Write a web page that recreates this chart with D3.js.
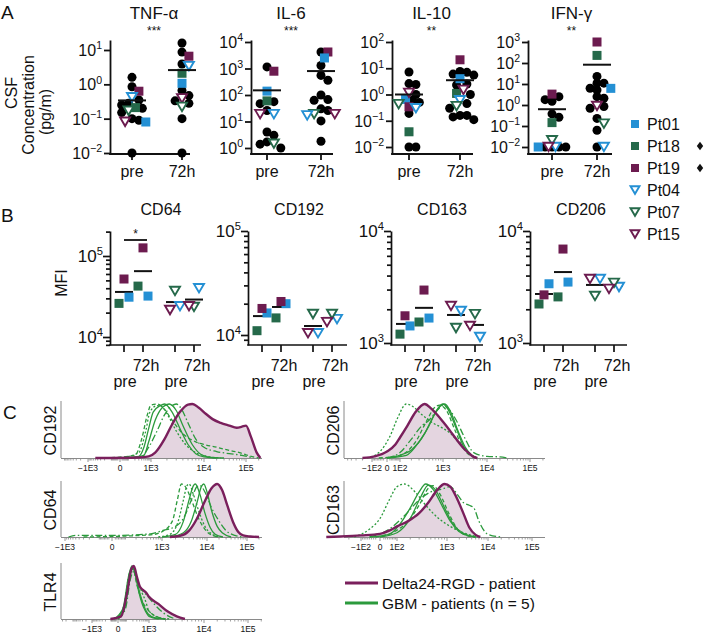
<!DOCTYPE html>
<html><head><meta charset="utf-8">
<script src="https://cdn.jsdelivr.net/npm/d3@7"></script>
<style>
body{margin:0;background:#fff}
text{font-family:"Liberation Sans",Arial,Helvetica,sans-serif;fill:#111}
</style></head>
<body><svg id="chart" width="704" height="635"></svg>
<script>
// ================= DATA =================
const patients = ["Pt01","Pt18","Pt19","Pt04","Pt07","Pt15"];
const deltaMarked = ["Pt18","Pt19"];
// ---- Panel A: CSF cytokines (pg/ml) ----
const cytokines = ["TNF-α","IL-6","IL-10","IFN-γ"];
const cytokineSig = ["***","***","**","**"];
const timepointsA = ["pre","72h"];
// patient values follow the order of `patients` (null = not shown)
const tnfPatientPre = [0.08, 0.21, 0.63, 0.42, 0.17, 0.081];
const tnfPatient72  = [1.07, 2.1, 6.6, 3.4, 0.22, 0.39];
const tnfOtherPre   = [1.6, 0.85, 0.35, 0.28, 0.25, 0.2, 0.15, 0.1, 0.09, 0.01];
const tnfOther72    = [16, 8.7, 3.9, 0.66, 0.47, 0.33, 0.28, 0.1, 0.01];
const tnfMeans      = [0.34, 2.6];
const il6PatientPre = [140, 60, 790, 19, 1.45, 19];
const il6Patient72  = [2500, null, 4200, 17, 19, 19];
const il6OtherPre   = [1150, 56, 47, 26, 4, 3, 1.7, 1.4, 1.0];
const il6Other72    = [4200, 1300, 550, 360, 100, 67, 63, 30, 26, 10.5, 1.8];
const il6Means      = [150, 800];
const il10PatientPre = [0.65, 0.038, 0.34, 0.3, 0.43, 1.15];
const il10Patient72  = [4, 1.1, 21, 0.6, 0.36, 1.5];
const il10OtherPre   = [7.2, 2.6, 2.4, 1.0, 0.6, 0.5, 0.19, 0.01, 0.01];
const il10Other72    = [7.5, 7, 6, 5.5, 2.5, 2.3, 1.0, 0.45, 0.3, 0.16, 0.14, 0.16, 0.11];
const il10Means      = [1.0, 3.5];
const ifnPatientPre = [0.01, 0.145, 3.3, 0.01, 0.021, 0.01];
const ifnPatient72  = [6.2, 230, 1000, 0.01, 0.13, 0.9];
const ifnOtherPre   = [2.5, 1.8, 1.5, 0.38, 0.26, 0.01, 0.01, 0.01, 0.01];
const ifnOther72    = [23, 11, 11, 6.3, 5.2, 2.5, 2.1, 0.85, 0.7, 0.23, 0.063, 0.01];
const ifnMeans      = [0.63, 83];

// ---- Panel B: MFI ----
const markersB = ["CD64","CD192","CD163","CD206"];
const groupsB = ["delta","gbm"];
const timesB = ["pre","72h"];
const deltaPatients = ["Pt01","Pt18","Pt19"];
const gbmPatients = ["Pt04","Pt07","Pt15"];
const cd64DeltaPre = [31000, 26000, 52000];
const cd64Delta72  = [32000, 42500, 126000];
const cd64GbmPre   = [24000, 37000, 21500];
const cd64Gbm72    = [40000, 23500, 24000];
const cd64Means    = [36000, 65000, 27000, 29000];
const cd192DeltaPre = [16300, 11000, 18000];
const cd192Delta72  = [20000, 14600, 21000];
const cd192GbmPre   = [10400, 15900, 10400];
const cd192Gbm72    = [14200, 15900, 13300];
const cd192Means    = [15200, 18600, 12200, 14600];
const cd163DeltaPre = [1420, 1200, 1750];
const cd163Delta72  = [1670, 1540, 2970];
const cd163GbmPre   = [1930, 1360, 2140];
const cd163Gbm72    = [1130, 1810, 1420];
const cd163Means    = [1480, 2060, 1780, 1450];
const cd206DeltaPre = [3380, 2230, 2690];
const cd206Delta72  = [3500, 2580, 6900];
const cd206GbmPre   = [3730, 2630, 3730];
const cd206Gbm72    = [3160, 3440, 3040];
const cd206Means    = [2740, 4300, 3300, 3250];

// ---- Panel C: histograms, [value, normalized height] ----
const histMarkers = ["CD192","CD64","TLR4","CD206","CD163"];
const histTicksWide = [-1000, 0, 1000, 1e4, 1e5];
const histLabelsWide = ["−1E3","0","1E3","1E4","1E5"];
const histTicksNarrow = [-100, 0, 100, 1000, 1e4, 1e5];
const histLabelsNarrow = ["−1E2","0","1E2","1E3","1E4","1E5"];
const legendC = ["Delta24-RGD - patient","GBM - patients (n = 5)"];

const cd192Delta = [[-500,0],[300,0.01],[800,0.03],[1200,0.1],[1800,0.35],[2500,0.62],[3500,0.85],[5000,0.99],[6000,1.0],[8000,0.93],[11000,0.82],[16000,0.72],[25000,0.65],[40000,0.6],[60000,0.56],[80000,0.58],[100000,0.6],[130000,0.4],[180000,0.1],[220000,0]];
const cd192Gbm = [
 [[0,0],[300,0.03],[500,0.2],[800,0.55],[1100,0.85],[1500,0.97],[1800,1.0],[2500,0.85],[3500,0.55],[5000,0.25],[7000,0.08],[10000,0.02],[20000,0]],
 [[100,0],[500,0.05],[800,0.3],[1200,0.7],[1700,0.95],[2200,1.0],[3000,0.88],[4000,0.6],[6000,0.25],[9000,0.06],[15000,0.01],[30000,0]],
 [[-200,0],[200,0.05],[400,0.35],[700,0.8],[1000,0.98],[1300,1.0],[1800,0.9],[2500,0.7],[4000,0.45],[7000,0.3],[10000,0.25],[20000,0.2],[40000,0.14],[70000,0.1],[100000,0.06],[150000,0.02],[200000,0]],
 [[0,0],[400,0.03],[800,0.2],[1300,0.5],[1800,0.8],[2500,0.97],[3000,1.0],[3800,0.9],[5000,0.65],[7000,0.35],[10000,0.2],[20000,0.12],[40000,0.08],[80000,0.05],[150000,0]],
 [[0,0],[300,0.1],[600,0.5],[900,0.85],[1300,0.97],[1600,0.95],[2200,0.75],[3000,0.5],[4500,0.25],[7000,0.1],[12000,0.03],[25000,0]]
];
const cd64Delta = [[1500,0],[2500,0.02],[4000,0.12],[6000,0.35],[9000,0.68],[13000,0.92],[18000,1.0],[24000,0.88],[32000,0.6],[45000,0.28],[60000,0.1],[80000,0.03],[120000,0.01],[200000,0]];
const cd64Gbm = [
 [[1000,0],[2000,0.05],[3000,0.3],[4000,0.7],[5000,0.97],[5500,1.0],[7000,0.8],[9000,0.45],[12000,0.18],[16000,0.05],[25000,0]],
 [[1500,0],[3000,0.08],[4500,0.3],[6000,0.65],[7500,0.95],[8500,1.0],[10000,0.85],[13000,0.5],[18000,0.2],[25000,0.07],[40000,0]],
 [[-300,0],[500,0.04],[1000,0.1],[1700,0.3],[2200,0.7],[2700,1.0],[3300,0.95],[4500,0.7],[6500,0.35],[10000,0.1],[15000,0.02],[20000,0]],
 [[-800,0],[-500,0.03],[0,0.03],[500,0.06],[1000,0.12],[2000,0.2],[3000,0.35],[4500,0.7],[6000,0.95],[7000,0.97],[9000,0.85],[13000,0.55],[20000,0.3],[30000,0.12],[50000,0.03],[80000,0]],
 [[800,0],[1500,0.05],[2300,0.3],[3000,0.7],[3600,0.97],[4000,1.0],[5000,0.8],[6500,0.5],[9000,0.2],[13000,0.06],[20000,0]]
];
const tlr4Delta = [[-100,0],[30,0.05],[100,0.5],[170,0.95],[220,1.0],[300,0.8],[400,0.62],[550,0.55],[750,0.5],[1000,0.42],[1500,0.28],[2200,0.14],[3200,0.05],[4500,0]];
const tlr4Gbm = [
 [[-50,0],[50,0.2],[120,0.8],[180,1.0],[250,0.85],[350,0.55],[500,0.3],[700,0.15],[1000,0.05],[1500,0]],
 [[-50,0],[60,0.15],[140,0.8],[200,0.98],[280,0.8],[400,0.5],[600,0.25],[900,0.1],[1300,0.02],[2000,0]],
 [[-30,0],[60,0.25],[130,0.85],[200,0.95],[300,0.65],[500,0.35],[800,0.2],[1200,0.08],[2000,0]],
 [[0,0],[80,0.2],[150,0.75],[220,0.9],[320,0.7],[500,0.55],[800,0.45],[1200,0.3],[1800,0.12],[3000,0]],
 [[0,0],[80,0.3],[160,0.9],[230,0.95],[350,0.7],[500,0.5],[700,0.35],[1000,0.15],[1500,0.03],[2500,0]]
];
const cd206Delta = [[-200,0],[-80,0.03],[0,0.12],[60,0.25],[100,0.38],[160,0.6],[250,0.85],[400,1.0],[550,0.92],[750,0.8],[1000,0.67],[1400,0.52],[2000,0.35],[2800,0.2],[4000,0.08],[5000,0.02],[6000,0]];
const cd206Gbm = [
 [[0,0],[100,0.05],[200,0.15],[400,0.45],[600,0.75],[900,0.97],[1100,1.0],[1500,0.85],[2200,0.5],[3200,0.2],[4500,0.05],[6000,0]],
 [[0,0],[150,0.05],[300,0.3],[500,0.6],[750,0.9],[1000,1.0],[1300,0.9],[2000,0.55],[3000,0.2],[4500,0.05],[6000,0]],
 [[-50,0],[100,0.05],[250,0.3],[450,0.7],[650,0.93],[850,0.98],[1200,0.88],[1800,0.55],[2800,0.2],[4500,0.03],[6000,0]],
 [[0,0],[100,0.1],[200,0.35],[350,0.6],[500,0.7],[700,0.85],[1000,0.97],[1300,0.92],[2000,0.7],[3000,0.4],[5000,0.1],[10000,0.03],[20000,0.02],[30000,0]],
 [[-150,0],[-50,0.1],[20,0.4],[80,0.75],[150,1.0],[220,0.95],[350,0.8],[600,0.65],[1000,0.55],[1500,0.45],[2500,0.25],[4000,0.08],[6000,0]]
];
const cd163Delta = [[-600,0],[-300,0.01],[-100,0.03],[0,0.06],[50,0.12],[100,0.2],[180,0.3],[300,0.45],[450,0.65],[650,0.88],[900,1.0],[1200,0.95],[1700,0.75],[2500,0.45],[3500,0.18],[5000,0.04],[6500,0]];
const cd163Gbm = [
 [[-50,0],[50,0.05],[120,0.25],[200,0.55],[300,0.85],[400,1.0],[550,0.9],[800,0.6],[1200,0.3],[2000,0.1],[3500,0.02],[5000,0]],
 [[0,0],[100,0.08],[200,0.35],[320,0.75],[450,0.98],[600,0.9],[900,0.55],[1400,0.25],[2500,0.07],[5000,0]],
 [[-20,0],[80,0.1],[180,0.3],[300,0.6],[450,0.92],[550,0.97],[750,0.8],[1100,0.45],[1800,0.15],[3000,0.03],[5000,0]],
 [[-50,0],[50,0.15],[150,0.4],[300,0.7],[500,0.85],[800,0.9],[1200,0.95],[1800,0.8],[2500,0.65],[3500,0.6],[4500,0.55],[6000,0.3],[10000,0.05],[20000,0]],
 [[-150,0],[-50,0.15],[0,0.35],[50,0.7],[100,0.95],[150,1.0],[250,0.85],[400,0.6],[700,0.35],[1200,0.2],[2500,0.08],[6000,0]]
];

// ================= STYLE / LAYOUT =================
const patientColor = ["#2490d4","#25694a","#6c1b4f","#2490d4","#25694a","#6c1b4f"];
const patientShape = ["square","square","square","tri","tri","tri"];
const PURPLE = "#7a1f5c", PURPLE_FILL = "#e4d5e0", GREEN = "#2b9a3c";
const greenDash = [null, null, "4,2.5", "7,2.5,1.5,2.5", "2,2"];

const svg = d3.select("#chart");

function marker(g, shape, color, x, y, size) {
  if (shape === "circle") {
    g.append("circle").attr("cx", x).attr("cy", y).attr("r", size / 2).attr("fill", "#000");
  } else if (shape === "square") {
    g.append("rect").attr("x", x - size / 2).attr("y", y - size / 2)
      .attr("width", size).attr("height", size).attr("fill", color);
  } else {
    const w = size, h = size * 0.85;
    g.append("path").attr("d", `M${x - w / 2},${y - h / 2}L${x + w / 2},${y - h / 2}L${x},${y + h / 2}Z`)
      .attr("fill", "#fff").attr("stroke", color).attr("stroke-width", 1.9).attr("stroke-linejoin", "miter");
  }
}
function powLabel(g, x, y, exp, fs) {
  const t = g.append("text").attr("x", x).attr("y", y).attr("text-anchor", "end").attr("font-size", fs);
  t.append("tspan").text("10");
  t.append("tspan").attr("dy", -fs * 0.42).attr("font-size", fs * 0.66).text(exp < 0 ? "−" + (-exp) : String(exp));
}
// compact beeswarm: allows partial overlap, spread capped
function swarm(points, y, cx, r, maxOff) {
  const placed = [];
  const sorted = points.slice().sort((a, b) => b.v - a.v);
  const step = r * 0.75;
  sorted.forEach(p => {
    p.y = y(p.v);
    let best = null, bestD = -1;
    for (let k = 0; k < 60; k++) {
      const off = (k % 2 === 1 ? 1 : -1) * Math.ceil(k / 2) * step;
      if (Math.abs(off) > maxOff) break;
      const x = cx + off;
      const dmin = placed.length ? d3.min(placed, q => Math.hypot(q.x - x, q.y - p.y)) : 1e9;
      if (dmin >= 2 * r * 0.72) { best = x; break; }
      if (dmin > bestD) { bestD = dmin; best = x; }
    }
    p.x = best;
    placed.push(p);
  });
  return sorted;
}

// Panel letters
[["A", 1, 19], ["B", 1, 222], ["C", 3, 419]].forEach(([t, x, y]) =>
  svg.append("text").attr("x", x).attr("y", y).attr("font-size", 19).text(t));

// ================= PANEL A =================
const dataA = [
  {patient: [tnfPatientPre, tnfPatient72], other: [tnfOtherPre, tnfOther72], means: tnfMeans},
  {patient: [il6PatientPre, il6Patient72], other: [il6OtherPre, il6Other72], means: il6Means},
  {patient: [il10PatientPre, il10Patient72], other: [il10OtherPre, il10Other72], means: il10Means},
  {patient: [ifnPatientPre, ifnPatient72], other: [ifnOtherPre, ifnOther72], means: ifnMeans}
];
const layoutA = [
  {axisX: 110, end: 190, xOff: [22, 72], decVals: [1e-2, 1e1], decY: [153, 50]},
  {axisX: 251, end: 333, xOff: [16, 70], decVals: [1e0, 1e4], decY: [148, 42]},
  {axisX: 392, end: 473, xOff: [17, 68], decVals: [1e-2, 1e2], decY: [147, 42]},
  {axisX: 528, end: 612, xOff: [24, 69], decVals: [1e-2, 1e3], decY: [147, 42]}
];
const A_TOP = 40, A_BOT = 154;

// y label
[["CSF", 11, 93], ["Concentration", 28, 105], ["(pg/m)", 45, 112]].forEach(([t, x, y]) =>
  svg.append("text").attr("transform", `translate(${x + 6},${y}) rotate(-90)`).attr("text-anchor", "middle")
    .attr("font-size", 16).text(t));

cytokines.forEach((name, i) => {
  const L = layoutA[i], D = dataA[i];
  const y = d3.scaleLog().domain(L.decVals).range(L.decY);
  const g = svg.append("g");
  const e0 = Math.round(Math.log10(L.decVals[0])), e1 = Math.round(Math.log10(L.decVals[1]));
  const decades = d3.range(e0, e1 + 1).map(e => Math.pow(10, e));
  const yAx = y.copy().domain([y.invert(A_BOT), y.invert(A_TOP)]).range([A_BOT, A_TOP]);
  const ag = g.append("g").attr("transform", `translate(${L.axisX},0)`)
    .call(d3.axisLeft(yAx).tickValues(decades).tickSize(6).tickSizeOuter(0).tickFormat(""));
  ag.selectAll("path,line").attr("stroke", "#111").attr("stroke-width", 1.8);
  decades.forEach(v => powLabel(g, L.axisX - 8, y(v) + 6, Math.round(Math.log10(v)), 16));
  const x = d3.scalePoint().domain(timepointsA).range([L.axisX + L.xOff[0], L.axisX + L.xOff[1]]);
  g.append("line").attr("x1", L.axisX - 0.9).attr("x2", L.end).attr("y1", A_BOT).attr("y2", A_BOT)
    .attr("stroke", "#111").attr("stroke-width", 1.8);
  timepointsA.forEach((tp, j) => {
    g.append("line").attr("x1", x(tp)).attr("x2", x(tp)).attr("y1", A_BOT).attr("y2", A_BOT + 6)
      .attr("stroke", "#111").attr("stroke-width", 1.8);
    g.append("text").attr("x", x(tp)).attr("y", A_BOT + 23).attr("text-anchor", "middle")
      .attr("font-size", 16).text(tp);
    const pts = [];
    D.other[j].forEach(v => pts.push({v, shape: "circle"}));
    D.patient[j].forEach((v, k) => { if (v != null) pts.push({v, shape: patientShape[k], color: patientColor[k]}); });
    const placed = swarm(pts, y, x(tp), 4.6, 15);
    ["circle", "square", "tri"].forEach(s =>
      placed.filter(p => p.shape === s).forEach(p => marker(g, s, p.color, p.x, p.y, s === "circle" ? 9 : (s === "square" ? 9 : 10))));
    g.append("line").attr("x1", x(tp) - 14).attr("x2", x(tp) + 14)
      .attr("y1", y(D.means[j])).attr("y2", y(D.means[j])).attr("stroke", "#111").attr("stroke-width", 2);
  });
  const mid = (x("pre") + x("72h")) / 2 - 3;
  g.append("text").attr("x", mid).attr("y", 19).attr("text-anchor", "middle").attr("font-size", 17).text(name);
  g.append("text").attr("x", mid).attr("y", 35).attr("text-anchor", "middle").attr("font-size", 12).text(cytokineSig[i]);
});

// Legend A
patients.forEach((p, i) => {
  const yy = 124 + i * 22;
  const g = svg.append("g");
  marker(g, patientShape[i], patientColor[i], 635, yy, patientShape[i] === "square" ? 8 : 9);
  g.append("text").attr("x", 647).attr("y", yy + 6).attr("font-size", 16).text(p);
  if (deltaMarked.includes(p)) {
    g.append("path").attr("d", d3.symbol(d3.symbolDiamond2, 40)()).attr("transform", `translate(700,${yy}) scale(0.8,1.1)`)
      .attr("fill", "#111");
  }
});

// ================= PANEL B =================
const dataB = [
  {vals: [[cd64DeltaPre, cd64Delta72], [cd64GbmPre, cd64Gbm72]], means: cd64Means},
  {vals: [[cd192DeltaPre, cd192Delta72], [cd192GbmPre, cd192Gbm72]], means: cd192Means},
  {vals: [[cd163DeltaPre, cd163Delta72], [cd163GbmPre, cd163Gbm72]], means: cd163Means},
  {vals: [[cd206DeltaPre, cd206Delta72], [cd206GbmPre, cd206Gbm72]], means: cd206Means}
];
const layoutB = [
  {axisX: 110, end: 201, decVals: [1e4, 1e5], decY: [337, 256]},
  {axisX: 248, end: 347, decVals: [1e4, 1e5], decY: [335, 231]},
  {axisX: 391, end: 483, decVals: [1e3, 1e4], decY: [343, 231]},
  {axisX: 530, end: 627, decVals: [1e3, 1e4], decY: [343, 231]}
];
const B_TOP = 231, B_BOT = 345;
const jitterB = {Pt01: 5, Pt18: -5, Pt19: 0, Pt04: 5, Pt07: 0, Pt15: -5};
svg.append("text").attr("transform", "translate(67,283) rotate(-90)").attr("text-anchor", "middle")
  .attr("font-size", 16).text("MFI");

markersB.forEach((name, i) => {
  const L = layoutB[i], D = dataB[i];
  const y = d3.scaleLog().domain(L.decVals).range(L.decY);
  const g = svg.append("g");
  const lo = y.invert(B_BOT), hi = y.invert(B_TOP);
  const majors = [], minors = [];
  for (let n = 2; n <= 6; n++) for (let k = 1; k < 10; k++) {
    const v = k * Math.pow(10, n);
    if (v >= lo && v <= hi) (k === 1 ? majors : minors).push(v);
  }
  const yAx = y.copy().domain([lo, hi]).range([B_BOT, B_TOP]);
  g.append("g").attr("transform", `translate(${L.axisX},0)`)
    .call(d3.axisLeft(yAx).tickValues(majors).tickSize(7).tickSizeOuter(0).tickFormat(""));
  const a2 = g.append("g").attr("transform", `translate(${L.axisX},0)`)
    .call(d3.axisLeft(yAx).tickValues(minors).tickSize(4).tickSizeOuter(0).tickFormat(""));
  a2.select("path").remove();
  g.selectAll("path,line").attr("stroke", "#111").attr("stroke-width", 1.7);
  majors.forEach(v => powLabel(g, L.axisX - 7, y(v) + 6, Math.round(Math.log10(v)), 17));
  g.append("text").attr("x", L.axisX + 51).attr("y", 215).attr("text-anchor", "middle").attr("font-size", 16).text(name);
  const gx = d3.scalePoint().domain(groupsB).range([L.axisX + 23.5, L.axisX + 74.5]);
  const tx = d3.scalePoint().domain(timesB).range([-9.5, 9.5]);
  g.append("line").attr("x1", L.axisX - 0.85).attr("x2", L.end).attr("y1", B_BOT).attr("y2", B_BOT)
    .attr("stroke", "#111").attr("stroke-width", 1.7);
  groupsB.forEach((grp, gi) => {
    const ids = gi === 0 ? deltaPatients : gbmPatients;
    timesB.forEach((tp, ti) => {
      const cx = gx(grp) + tx(tp);
      g.append("line").attr("x1", cx).attr("x2", cx).attr("y1", B_BOT).attr("y2", B_BOT + 7)
        .attr("stroke", "#111").attr("stroke-width", 1.7);
      g.append("text").attr("x", cx + (ti ? 3 : 1)).attr("y", ti ? 371 : 387).attr("text-anchor", "middle")
        .attr("font-size", 16).text(tp);
      const mv = D.means[gi * 2 + ti];
      g.append("line").attr("x1", cx - 9).attr("x2", cx + 9).attr("y1", y(mv)).attr("y2", y(mv))
        .attr("stroke", "#111").attr("stroke-width", 2);
      D.vals[gi][ti].forEach((v, k) => {
        const pi = patients.indexOf(ids[k]);
        marker(g, patientShape[pi], patientColor[pi], cx + jitterB[ids[k]], y(v), patientShape[pi] === "square" ? 9 : 10);
      });
    });
  });
  if (i === 0) {
    const x1 = gx("delta") + tx("pre"), x2 = gx("delta") + tx("72h") + 4;
    g.append("line").attr("x1", x1).attr("x2", x2).attr("y1", 240).attr("y2", 240).attr("stroke", "#111").attr("stroke-width", 1.8);
    g.append("text").attr("x", (x1 + x2) / 2).attr("y", 238).attr("text-anchor", "middle").attr("font-size", 12).text("*");
  }
});

// ================= PANEL C =================
const dataC = [
  {delta: cd192Delta, gbm: cd192Gbm},
  {delta: cd64Delta, gbm: cd64Gbm},
  {delta: tlr4Delta, gbm: tlr4Gbm},
  {delta: cd206Delta, gbm: cd206Gbm},
  {delta: cd163Delta, gbm: cd163Gbm}
];
const layoutC = [
  {axisX: 61, end: 262, top: 403, base: 458, narrow: false, tickX: [88, 120, 151, 204, 246], labelX: 56},
  {axisX: 61, end: 262, top: 483, base: 537, narrow: false, tickX: [65, 112, 162, 207, 247], labelX: 56},
  {axisX: 61, end: 262, top: 565, base: 619, narrow: false, tickX: [92, 118, 149, 204, 248], labelX: 56},
  {axisX: 344, end: 545, top: 403, base: 458, narrow: true, tickX: [372, 387, 400, 443, 487, 530], labelX: 339},
  {axisX: 344, end: 545, top: 483, base: 537, narrow: true, tickX: [361, 380, 397, 447, 488, 532], labelX: 339}
];
const biex = v => Math.asinh(v / 100);

histMarkers.forEach((name, i) => {
  const L = layoutC[i], D = dataC[i];
  const ticks = L.narrow ? histTicksNarrow : histTicksWide;
  const labels = L.narrow ? histLabelsNarrow : histLabelsWide;
  const xl = d3.scaleLinear().domain(ticks.map(biex)).range(L.tickX);
  const x = v => xl(biex(v));
  const y = d3.scaleLinear().domain([0, 1]).range([L.base, L.top + 1]);
  const g = svg.append("g");
  g.append("line").attr("x1", L.axisX).attr("x2", L.axisX).attr("y1", L.top - 2).attr("y2", L.base)
    .attr("stroke", "#8a8a8a").attr("stroke-width", 1);
  g.append("line").attr("x1", L.axisX).attr("x2", L.end).attr("y1", L.base + 0.5).attr("y2", L.base + 0.5)
    .attr("stroke", "#8a8a8a").attr("stroke-width", 1);
  const minors = [];
  for (let n = 1; n <= 5; n++) for (let k = 2; k < 10; k++) {
    [k * Math.pow(10, n), -k * Math.pow(10, n)].forEach(v => { const px = x(v); if (px > L.axisX + 1 && px < L.end) minors.push(v); });
  }
  minors.forEach(v => g.append("line").attr("x1", x(v)).attr("x2", x(v)).attr("y1", L.base + 0.5).attr("y2", L.base + 2.5)
    .attr("stroke", "#8a8a8a").attr("stroke-width", 0.8));
  ticks.forEach((v, k) => {
    g.append("line").attr("x1", x(v)).attr("x2", x(v)).attr("y1", L.base + 0.5).attr("y2", L.base + 4)
      .attr("stroke", "#8a8a8a").attr("stroke-width", 0.9);
    g.append("text").attr("x", x(v)).attr("y", L.base + 13).attr("text-anchor", "middle")
      .attr("font-size", 8.5).text(labels[k]);
  });
  g.append("text").attr("transform", `translate(${L.labelX},${(L.top + L.base) / 2}) rotate(-90)`)
    .attr("text-anchor", "middle").attr("font-size", 16).text(name);
  const area = d3.area().x(d => x(d[0])).y0(L.base).y1(d => y(d[1])).curve(d3.curveMonotoneX);
  const line = d3.line().x(d => x(d[0])).y(d => y(d[1])).curve(d3.curveMonotoneX);
  g.append("path").attr("d", area(D.delta)).attr("fill", PURPLE_FILL);
  D.gbm.forEach((c, k) => {
    g.append("path").attr("d", line(c)).attr("fill", "none").attr("stroke", GREEN).attr("stroke-width", 1.3)
      .attr("stroke-dasharray", greenDash[k]);
  });
  g.append("path").attr("d", line(D.delta)).attr("fill", "none").attr("stroke", PURPLE).attr("stroke-width", 2.4);
});

// Legend C
legendC.forEach((t, i) => {
  const yy = 583 + i * 20;
  svg.append("line").attr("x1", 345).attr("x2", 378).attr("y1", yy).attr("y2", yy)
    .attr("stroke", i ? GREEN : PURPLE).attr("stroke-width", 3);
  svg.append("text").attr("x", 382).attr("y", yy + 5.5).attr("font-size", 15.5).text(t);
});
</script></body></html>
